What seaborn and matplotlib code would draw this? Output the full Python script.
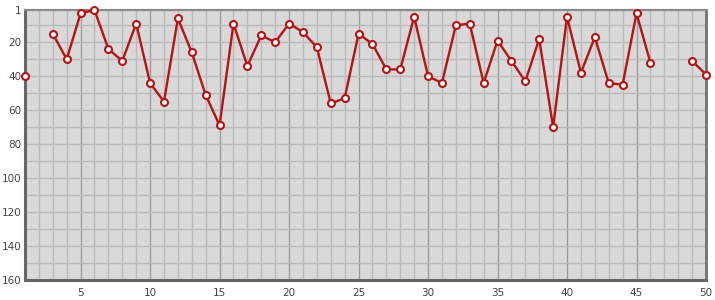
import numpy as np
import pandas as pd
import matplotlib
matplotlib.use("Agg")
import matplotlib.pyplot as plt
import seaborn as sns

# Data
x_vals = list(range(1, 51))
y_vals = [40, np.nan, 15, 30, 3, 1, 24, 31, 9, 44,
          55, 6, 26, 51, 69, 9, 34, 16, 20, 9,
          14, 23, 56, 53, 15, 21, 36, 36, 5, 40,
          44, 10, 9, 44, 19, 31, 43, 18, 70, 5,
          38, 17, 44, 45, 3, 32, np.nan, np.nan, 31, 39]
x_ticks = [5, 10, 15, 20, 25, 30, 35, 40, 45, 50]
y_ticks = [1, 20, 40, 60, 80, 100, 120, 140, 160]

df = pd.DataFrame({"x": x_vals, "y": y_vals})
df["seg"] = df["y"].isna().cumsum()
df = df.dropna()

sns.set_style("white")
plt.rcParams['font.family'] = ['DejaVu Sans']

fig = plt.figure(figsize=(7.15, 3.0), dpi=100)
ax = fig.add_axes([25/715, 20/300, 681/715, 270/300])
ax.set_facecolor("#d9d9d9")

# grid
for xv in range(1, 51):
    c = "#9c9c9c" if xv % 5 == 0 else "#bababa"
    ax.axvline(xv, color=c, lw=1, zorder=0.5)
for yv in range(10, 160, 10):
    ax.axhline(yv, color="#bababa", lw=1, zorder=0.5)

sns.lineplot(data=df, x="x", y="y", units="seg", estimator=None, ax=ax,
             color="#b41414", lw=1.7, marker="o", markersize=5,
             markerfacecolor="white", markeredgecolor="#b41414",
             markeredgewidth=1.5, clip_on=False, zorder=3, legend=False)

ax.set_xlim(1, 50)
ax.set_ylim(160, 1)
ax.set_xticks(x_ticks)
ax.set_yticks(y_ticks)
ax.set_xlabel("")
ax.set_ylabel("")
ax.tick_params(axis="both", length=0, labelsize=7.5, colors="#444444")
ax.tick_params(axis="x", pad=6)
ax.tick_params(axis="y", pad=2.5)

for s in ["left", "bottom"]:
    ax.spines[s].set_color("#666666")
    ax.spines[s].set_linewidth(2.2)
ax.spines["right"].set_color("#727272")
ax.spines["right"].set_linewidth(2.0)
ax.spines["top"].set_color("#8a8a8a")
ax.spines["top"].set_linewidth(1.6)
for s in ax.spines.values():
    s.set_visible(True)
    s.set_zorder(2)

fig.savefig("out.png", dpi=100, facecolor="white")
